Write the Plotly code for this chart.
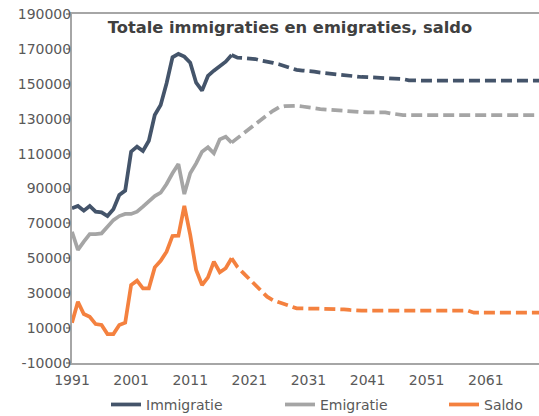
import plotly.graph_objects as go

# ---------------- data ----------------
years_hist = list(range(1991, 2019))
years_proj = list(range(2018, 2071))

immigratie_hist = [78700, 80000, 77300, 80000, 76700, 76300, 74200, 78100, 86300, 88800,
                   111100, 114000, 111500, 117400, 132100, 137900, 150300, 165200, 167100, 165600,
                   162100, 150600, 146100, 154500, 157500, 159800, 162700, 166500]
emigratie_hist = [65200, 54800, 59600, 63900, 63900, 64300, 68100, 71900, 74200, 75400,
                  75400, 76700, 79600, 82400, 85700, 87600, 92600, 98700, 104000, 86800,
                  98700, 104400, 111100, 113600, 110200, 118200, 119700, 116300]
saldo_hist = [13100, 25100, 18100, 16500, 12300, 11800, 6600, 6600, 11800, 13100,
              34700, 37200, 32800, 32800, 44800, 48600, 53800, 62800, 63000, 80000,
              63400, 43300, 34700, 39100, 48100, 42000, 44300, 50000]

immigratie_proj = [166500, 165000, 164800, 164600, 164200, 163300, 162800, 162000, 161200, 160000,
                   158800, 158000, 157600, 157400, 157000, 156400, 156000, 155700, 155300, 154800,
                   154300, 154000, 153900, 153800, 153700, 153300, 153000, 152900, 152800, 152700,
                   152000, 151800, 151800, 151800, 151800, 151800, 151800, 151800, 151800, 151800,
                   151800, 151800, 151800, 151800, 151800, 151800, 151800, 151800, 151800, 151800,
                   151800, 151800, 151800]
emigratie_proj = [116300, 119000, 121500, 124500, 127000, 129500, 132000, 134500, 136500, 137200,
                  137500, 137400, 137000, 136700, 136000, 135500, 135200, 134900, 134600, 134400,
                  134200, 133900, 133700, 133600, 133600, 133600, 133600, 133000, 132300, 132100,
                  132100, 132100, 132100, 132100, 132100, 132100, 132100, 132100, 132100, 132100,
                  132100, 132100, 132100, 132100, 132100, 132100, 132100, 132100, 132100, 132100,
                  132100, 132100, 132100]
saldo_proj = [50000, 45000, 41500, 38000, 35000, 31500, 28000, 26000, 25000, 24000,
              22500, 21300, 21000, 21200, 21200, 21200, 21200, 21200, 21200, 20700,
              20400, 20000, 20000, 20000, 20000, 20000, 20000, 20000, 20000, 20000,
              20000, 20000, 20000, 20000, 20000, 20000, 20000, 20000, 20000, 20000,
              20000, 18800, 18800, 18800, 18800, 18800, 18800, 18800, 18800, 18800,
              18800, 18800, 18800]

x_tickvals = [1991, 2001, 2011, 2021, 2031, 2041, 2051, 2061]
x_ticktext = ["1991", "2001", "2011", "2021", "2031", "2041", "2051", "2061"]
y_tickvals = [-10000, 10000, 30000, 50000, 70000, 90000, 110000, 130000, 150000, 170000, 190000]
y_ticktext = ["-10000", "10000", "30000", "50000", "70000", "90000", "110000", "130000",
              "150000", "170000", "190000"]

series_names = ["Immigratie", "Emigratie", "Saldo"]
colors = ["#44546A", "#A5A5A5", "#F4813F"]
title_text = "Totale immigraties en emigraties, saldo"

# ---------------- figure ----------------
FONT = "DejaVu Sans"
TXT = "#595959"
AX = "#A6A6A6"

fig = go.Figure()
hist = [immigratie_hist, emigratie_hist, saldo_hist]
proj = [immigratie_proj, emigratie_proj, saldo_proj]
legends = ["legend", "legend2", "legend3"]
for name, col, h, p, lg in zip(series_names, colors, hist, proj, legends):
    fig.add_trace(go.Scatter(x=years_hist, y=h, mode="lines", name=name,
                             line=dict(color=col, width=3.75), legend=lg))
    fig.add_trace(go.Scatter(x=years_proj, y=p, mode="lines", name=name, showlegend=False,
                             line=dict(color=col, width=3.75, dash="11px,5px")))

leg_common = dict(orientation="h", xanchor="left", y=-0.12, yanchor="middle",
                  font=dict(family=FONT, size=14, color=TXT), bgcolor="rgba(0,0,0,0)")

fig.update_layout(
    width=539, height=416, autosize=False,
    margin=dict(l=72, r=0, t=14, b=53, pad=0, autoexpand=False),
    plot_bgcolor="white", paper_bgcolor="white",
    font=dict(family=FONT, size=14, color=TXT),
    title=dict(text=title_text, font=dict(family=FONT, size=16.3, color="#404040", weight="bold"),
               x=290 / 539, xanchor="center", xref="container",
               y=1 - 27 / 416, yanchor="middle", yref="container"),
    xaxis=dict(range=[1991, 2070], tickvals=x_tickvals, ticktext=x_ticktext,
               showgrid=False, zeroline=False, showline=True, linecolor=AX, linewidth=2,
               mirror=True, ticks="", automargin=False, ticklabelstandoff=3,
               tickfont=dict(family=FONT, size=14, color=TXT)),
    xaxis2=dict(range=[1991, 2070], overlaying="x", anchor="free", position=0.05,
                tickvals=x_tickvals[1:], showticklabels=False, showgrid=False, zeroline=False,
                showline=True, linecolor=AX, linewidth=2, ticks="outside", ticklen=5,
                tickwidth=1.5, tickcolor=AX),
    yaxis=dict(range=[-10000, 190000], tickvals=y_tickvals, ticktext=y_ticktext,
               showgrid=False, zeroline=False, showline=True, linecolor=AX, linewidth=2,
               ticks="outside", ticklen=4, tickwidth=1.5, tickcolor=AX, automargin=False,
               ticklabelstandoff=-8,
               tickfont=dict(family=FONT, size=14, color=TXT)),
    legend=dict(x=(106 - 72) / 467, **leg_common),
    legend2=dict(x=(280 - 72) / 467, **leg_common),
    legend3=dict(x=(444 - 72) / 467, **leg_common),
)

fig.write_html("out.html", config={"displayModeBar": False},
               post_script="document.body.style.margin='0px';document.body.style.overflow='hidden';")
